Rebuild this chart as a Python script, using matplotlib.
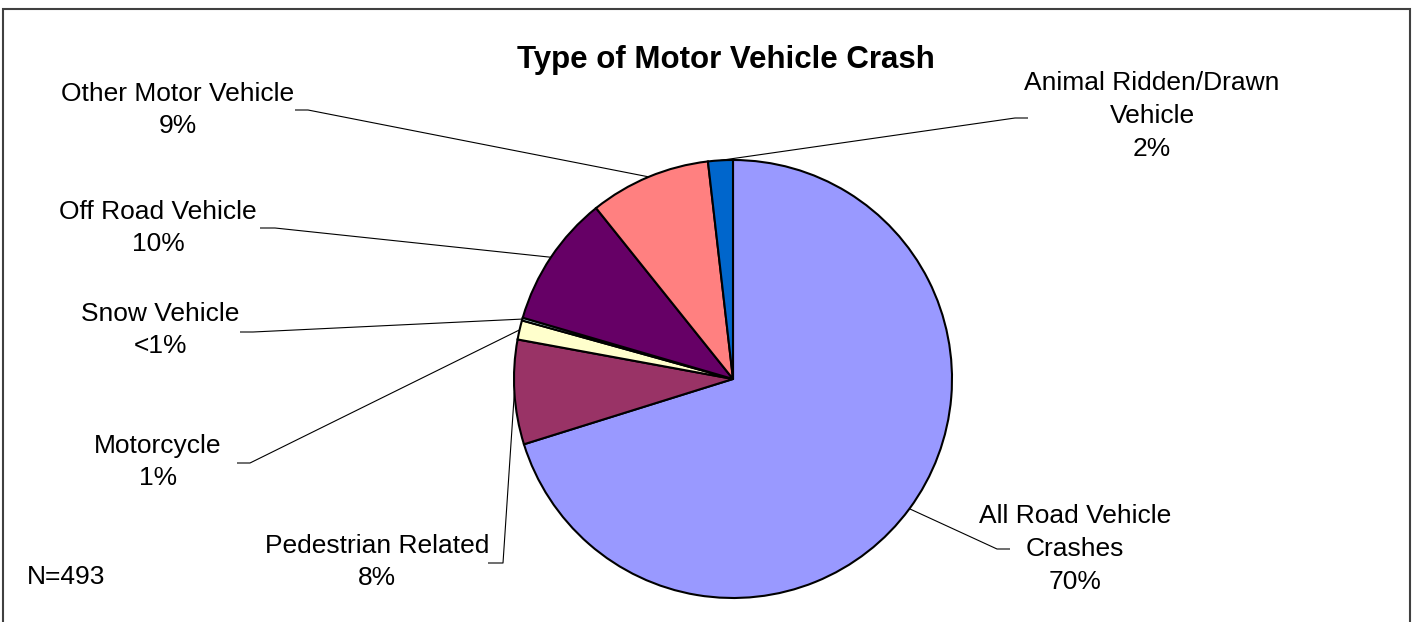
import numpy as np
import matplotlib.pyplot as plt
from matplotlib.patches import Rectangle

# data
categories = ['All Road Vehicle\nCrashes', 'Pedestrian Related', 'Motorcycle', 'Snow Vehicle',
              'Off Road Vehicle', 'Other Motor Vehicle', 'Animal Ridden/Drawn\nVehicle']
counts = [346, 38, 7, 1, 48, 44, 9]
pct_labels = ['70%', '8%', '1%', '<1%', '10%', '9%', '2%']
colors = ['#9999FF', '#993366', '#FFFFCC', '#CCFFFF', '#660066', '#FF8080', '#0066CC']
n_total = 493

# layout (pixels)
W, H = 1417, 622
cx, cy, R = 733, 379, 219
label_pos = [(1075, 549), (377, 562), (158, 462), (160, 330), (158, 228), (178, 110), (1152, 116)]
elbows = [((997, 549), (1010, 549)), ((503, 563), (488, 563)), ((250, 463), (237, 463)),
          ((253, 332), (240, 332)), ((275, 228), (260, 228)), ((308, 110), (295, 110)),
          ((1015, 118), (1028, 118))]


def px(x, y):
    return (x - cx) / R, (cy - y) / R


plt.rcParams['font.family'] = ['Liberation Sans', 'DejaVu Sans']

fig = plt.figure(figsize=(W / 100, H / 100), dpi=100)
ax = fig.add_axes([0, 0, 1, 1])
wedges, _ = ax.pie(counts, colors=colors, startangle=90, counterclock=False, radius=1,
                   wedgeprops=dict(edgecolor='black', linewidth=1.5))
ax.set_xlim(-cx / R, (W - cx) / R)
ax.set_ylim(-(H - cy) / R, cy / R)
ax.set_aspect('auto')
ax.axis('off')

# leader lines + labels
for w, cat, pct, lp, (e1, e2) in zip(wedges, categories, pct_labels, label_pos, elbows):
    mid = np.deg2rad((w.theta1 + w.theta2) / 2)
    x0, y0 = np.cos(mid), np.sin(mid)
    x1, y1 = px(*e1)
    x2, y2 = px(*e2)
    ax.plot([x0, x1, x2], [y0, y1, y2], color='black', lw=0.8, solid_capstyle='butt')
    ax.text(*px(*lp), f'{cat}\n{pct}', ha='center', va='center', fontsize=19, linespacing=1.45)

ax.text(*px(726, 60), 'Type of Motor Vehicle Crash', ha='center', va='center',
        fontsize=22.5, fontweight='bold')
ax.text(*px(27, 577), f'N={n_total}', ha='left', va='center', fontsize=19)

# chart border
fig.patches.append(Rectangle((3 / W, -0.1), (1410 - 3) / W, 1.1 - 9 / H, transform=fig.transFigure,
                             fill=False, edgecolor='#404040', lw=1.5))

fig.savefig('out.png', dpi=100)
